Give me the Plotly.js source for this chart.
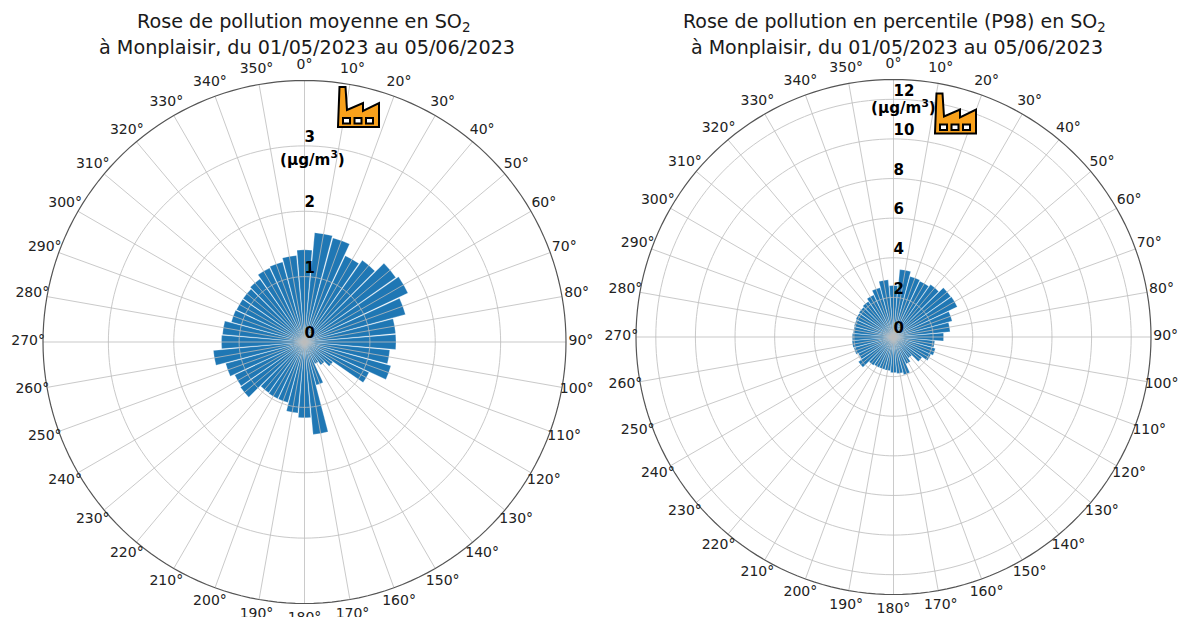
<!DOCTYPE html>
<html><head><meta charset="utf-8">
<script src="https://cdn.plot.ly/plotly-3.0.1.min.js"></script>
<style>html,body{margin:0;padding:0;background:#fff;overflow:hidden;height:617px}#c{width:1180px;height:640px}</style>
</head><body><div id="c"></div>
<script>
const directions = [0,10,20,30,40,50,60,70,80,90,100,110,120,130,140,150,160,170,180,190,200,210,220,230,240,250,260,270,280,290,300,310,320,330,340,350];
const meanValues = [1.41,1.68,1.65,1.46,1.53,1.71,1.75,1.60,1.40,1.40,1.31,1.37,1.09,0.53,0.43,0.37,0.68,1.42,1.16,1.09,0.96,0.96,0.95,1.20,1.18,1.25,1.40,1.27,1.26,1.16,1.15,1.15,1.18,1.25,1.27,1.33];
const p98Values = [2.6,3.42,3.17,3.12,3.24,3.54,3.56,3.07,2.87,2.53,2.09,2.19,2.08,1.76,1.3,1.5,1.97,1.85,1.8,1.71,1.7,1.7,1.75,2.17,1.96,2.07,2.1,2.08,2.04,2.06,2.1,2.13,2.2,2.35,2.58,2.9];
const meanTicks = [0,1,2,3];
const p98Ticks = [0,2,4,6,8,10,12];
const meanMax = 4, p98Max = 13;
const titleMean = ['Rose de pollution moyenne en SO<sub>2</sub>','à Monplaisir, du 01/05/2023 au 05/06/2023'];
const titleP98 = ['Rose de pollution en percentile (P98) en SO<sub>2</sub>','à Monplaisir, du 01/05/2023 au 05/06/2023'];
const unitLabel = '(µg/m<sup>3</sup>)';

const W = 1180, H = 640, FONT = '"DejaVu Sans", sans-serif';
const GRID = '#bdbdbd', PAD = 1.08;
const px = x => x / W, py = y => 1 - y / H;

function gridTraces(sub, ticks, rmax) {
  const out = [];
  const circleTheta = []; for (let t = 0; t <= 360; t += 2) circleTheta.push(t);
  ticks.filter(t => t > 0).forEach(t => out.push({type:'scatterpolar', subplot:sub, mode:'lines', r:circleTheta.map(() => t), theta:circleTheta, line:{color:GRID, width:1}, opacity:0.8, hoverinfo:'skip', showlegend:false}));
  directions.forEach(d => out.push({type:'scatterpolar', subplot:sub, mode:'lines', r:[0,rmax], theta:[d,d], line:{color:GRID, width:1}, opacity:0.8, hoverinfo:'skip', showlegend:false}));
  out.push({type:'scatterpolar', subplot:sub, mode:'lines', r:circleTheta.map(() => rmax), theta:circleTheta, line:{color:'#555', width:1.2}, hoverinfo:'skip', showlegend:false});
  return out;
}
function panel(sub, values, ticks, rmax, unitR) {
  return [
    {type:'barpolar', subplot:sub, r:values, theta:directions, width:directions.map(() => 9.4), marker:{color:'#1f77b4', line:{color:'rgba(255,255,255,0.5)', width:0.5}}, showlegend:false},
    ...gridTraces(sub, ticks, rmax),
    {type:'scatterpolar', subplot:sub, mode:'text', r:ticks, theta:ticks.map(() => 0), text:ticks.map(String), textposition:'top right', textfont:{family:FONT, size:15, color:'#000', weight:'bold'}, hoverinfo:'skip', showlegend:false},
    {type:'scatterpolar', subplot:sub, mode:'text', r:[unitR], theta:[2.5], text:[unitLabel], textposition:'middle center', textfont:{family:FONT, size:15.2, color:'#000', weight:'bold'}, hoverinfo:'skip', showlegend:false},
    {type:'scatterpolar', subplot:sub, mode:'text', cliponaxis:false, r:directions.map(() => rmax*1.057), theta:directions, text:directions.map(d => d + '°'), textposition:'middle center', textfont:{family:FONT, size:14, color:'#222'}, hoverinfo:'skip', showlegend:false}
  ];
}
function polar(cx, cy, R, ticks, rmax) {
  const Rp = R * PAD;
  return {
    domain:{x:[px(cx-Rp), px(cx+Rp)], y:[py(cy+Rp), py(cy-Rp)]},
    bgcolor:'#fff',
    barmode:'overlay',
    angularaxis:{direction:'clockwise', rotation:90, thetaunit:'degrees', tickmode:'array', tickvals:directions, showticklabels:false, showgrid:false, ticks:'', showline:false},
    radialaxis:{range:[0,rmax*PAD], tickmode:'array', tickvals:ticks, showticklabels:false, ticks:'', showline:false, showgrid:false}
  };
}
function factory(dx, dy) {
  const p = (x,y) => px(x+dx).toFixed(5) + ',' + py(y+dy).toFixed(5);
  const body = 'M'+p(338,127)+' L'+p(339.5,87)+' L'+p(345.5,87)+' L'+p(347,110)+' L'+p(363,103)+' L'+p(363,111)+' L'+p(379,103)+' L'+p(379,127)+' Z';
  const shapes = [{type:'path', xref:'paper', yref:'paper', path:body, fillcolor:'#f9a11b', line:{color:'#000', width:2}}];
  [343,354.5,366].forEach(x => {
    shapes.push({type:'rect', xref:'paper', yref:'paper', x0:px(x+dx), x1:px(x+7+dx), y0:py(123.5+dy), y1:py(118+dy), fillcolor:'#fff', line:{color:'#000', width:2}});
  });
  return shapes;
}
function titleAnn(lines, centers, size) {
  return lines.map((t,i) => ({text:t, xref:'paper', yref:'paper', x:px(centers[i]), y:py(23 + i*24), xanchor:'center', yanchor:'middle', showarrow:false, font:{family:FONT, size:size, color:'#1a1a1a'}}));
}
const data = [
  ...panel('polar', meanValues, meanTicks, meanMax, 2.77),
  ...panel('polar2', p98Values, p98Ticks, p98Max, 11.5)
];
const layout = {
  width:W, height:H, margin:{l:0,r:0,t:0,b:0}, paper_bgcolor:'#fff', showlegend:false,
  polar: polar(304.5, 342, 261.5, meanTicks, meanMax),
  polar2: polar(893.5, 337, 257.5, p98Ticks, p98Max),
  annotations:[...titleAnn(titleMean, [304,307], 19.2), ...titleAnn(titleP98, [894,897], 19)],
  shapes:[...factory(0,0), ...factory(597,6.5)]
};
Plotly.newPlot('c', data, layout, {displayModeBar:false, responsive:false});
</script></body></html>
